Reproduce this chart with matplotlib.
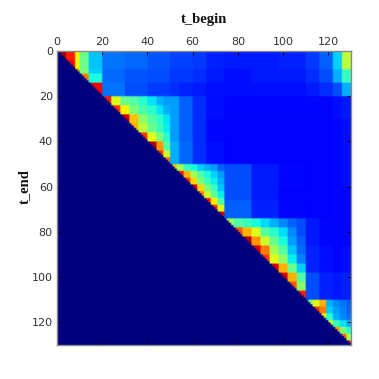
import numpy as np
import matplotlib
matplotlib.use('Agg')
import matplotlib.pyplot as plt

# limites grossos, usados fora dos triangulos principais
limites_gerais = [0, 8, 14, 20, 30, 40, 50, 54, 60, 66, 74, 86, 98, 110, 116, 122, 126, 130]

# linhas 0-20, colunas 20-130
fora_a = [[.24, .23, .21, .19, .19, .18, .16, .15, .15, .16, .18, .22, .33, .58],
          [.23, .21, .20, .18, .18, .17, .15, .14, .15, .15, .17, .20, .30, .42],
          [.24, .20, .18, .17, .16, .15, .14, .14, .14, .14, .15, .17, .20, .30]]
# linhas 20-50, colunas 50-130
fora_b = [[.28, .22, .17, .14, .13, .13, .13, .13, .13, .14, .15],
          [.28, .22, .17, .13, .12, .12, .12, .12, .12, .13, .14],
          [.30, .23, .17, .14, .12, .12, .12, .12, .12, .13, .14]]
# linhas 50-60, 60-66 e 66-74, colunas 74-130
fora_c = [[.20, .15, .13, .12, .12, .13, .14],
          [.20, .15, .12, .12, .12, .13, .13],
          [.22, .16, .13, .12, .12, .13, .13]]
# linhas 74-110, colunas 110-130
fora_d = [[.15, .13, .13, .13],
          [.16, .14, .13, .14],
          [.20, .16, .15, .16]]

# triangulos em volta da diagonal
limites_a = [0, 4, 8, 10, 14, 20]
triangulo_a = [[.97, .88, .65, .48, .32],
               [.90, .65, .48, .32],
               [.75, .50, .33],
               [.78, .38],
               [.90]]

limites_b = [20, 24, 28, 32, 36, 40, 44, 47, 50]
triangulo_b = [[.88, .62, .48, .45, .40, .35, .30, .28],
               [.85, .65, .50, .44, .40, .35, .30],
               [.92, .70, .52, .45, .40, .35],
               [.72, .58, .48, .42, .36],
               [.85, .62, .50, .40],
               [.95, .75, .45],
               [.85, .60],
               [.80]]

limites_c = [50, 53, 56, 59, 62, 65, 68, 71, 74]
triangulo_c = [[.70, .55, .42, .38, .33, .30, .28, .22],
               [.88, .72, .55, .45, .38, .33, .28],
               [.85, .68, .50, .42, .36, .30],
               [.92, .68, .50, .42, .32],
               [.78, .60, .47, .36],
               [.88, .66, .44],
               [.85, .62],
               [.92]]

limites_d = [74, 78, 82, 86, 90, 94, 98, 102, 106, 110]
triangulo_d = [[.55, .45, .42, .38, .34, .30, .26, .22, .20],
               [.82, .72, .62, .46, .40, .34, .26, .20],
               [.95, .75, .60, .48, .38, .28, .22],
               [.92, .78, .55, .45, .32, .23],
               [.85, .62, .52, .36, .25],
               [.92, .72, .48, .33],
               [.92, .72, .45],
               [.82, .52],
               [.88]]

limites_e = [110, 113, 116, 119, 122, 125, 128, 130]
triangulo_e = [[.50, .62, .72, .30, .26, .24, .22],
               [.85, .78, .33, .28, .25, .22],
               [.65, .40, .30, .26, .24],
               [.60, .42, .35, .30],
               [.75, .50, .40],
               [.80, .55],
               [.88]]

limites_linhas_c = [50, 60, 66, 74]
ticks = [0, 20, 40, 60, 80, 100, 120]


def preencher_fora(matriz, linhas, limites_linhas, primeira_coluna):
    for i, linha in enumerate(linhas):
        a, b = limites_linhas[i], limites_linhas[i + 1]
        for k, valor in enumerate(linha):
            c, d = limites_gerais[primeira_coluna + k], limites_gerais[primeira_coluna + k + 1]
            matriz[a:b, c:d] = valor


def preencher_triangulo(matriz, limites, linhas):
    for i, linha in enumerate(linhas):
        for k, valor in enumerate(linha):
            j = i + k
            matriz[limites[i]:limites[i + 1], limites[j]:limites[j + 1]] = valor


def montar_matriz():
    n = limites_gerais[-1]
    matriz = np.zeros((n, n))
    preencher_fora(matriz, fora_a, limites_gerais[0:4], 3)
    preencher_fora(matriz, fora_b, limites_gerais[3:7], 6)
    preencher_fora(matriz, fora_c, limites_linhas_c, 10)
    preencher_fora(matriz, fora_d, limites_gerais[10:14], 13)
    preencher_triangulo(matriz, limites_a, triangulo_a)
    preencher_triangulo(matriz, limites_b, triangulo_b)
    preencher_triangulo(matriz, limites_c, triangulo_c)
    preencher_triangulo(matriz, limites_d, triangulo_d)
    preencher_triangulo(matriz, limites_e, triangulo_e)
    # abaixo da diagonal fica zero
    return np.triu(matriz, 1)


def plotar_grafico(matriz):
    fig = plt.figure(figsize=(3.79, 3.79), dpi=100)
    ax = fig.add_axes([57 / 379, 34 / 379, 294 / 379, 294 / 379])
    ax.imshow(matriz, cmap='jet', vmin=0, vmax=1, extent=(0, 130, 130, 0),
              aspect='auto', interpolation='hanning')
    ax.set_xticks(ticks)
    ax.set_yticks(ticks)
    ax.xaxis.set_ticks_position('both')
    ax.yaxis.set_ticks_position('both')
    ax.tick_params(direction='in', length=3, width=0.6, labelsize=8,
                   labelcolor='#333333', labeltop=True, labelbottom=False, pad=3)
    for spine in ax.spines.values():
        spine.set_color('#888888')
        spine.set_linewidth(1.0)
    serif = ['Liberation Serif', 'DejaVu Serif']
    fig.text(204 / 379, 1 - 19 / 379, 't_begin', family=serif, weight='bold', fontsize=10.5,
             ha='center', va='center', color='#111111')
    fig.text(24 / 379, 1 - 187 / 379, 't_end', family=serif, weight='bold', fontsize=10.5,
             rotation=90, ha='center', va='center', color='#111111')
    fig.savefig('out.png', dpi=100)


plotar_grafico(montar_matriz())
